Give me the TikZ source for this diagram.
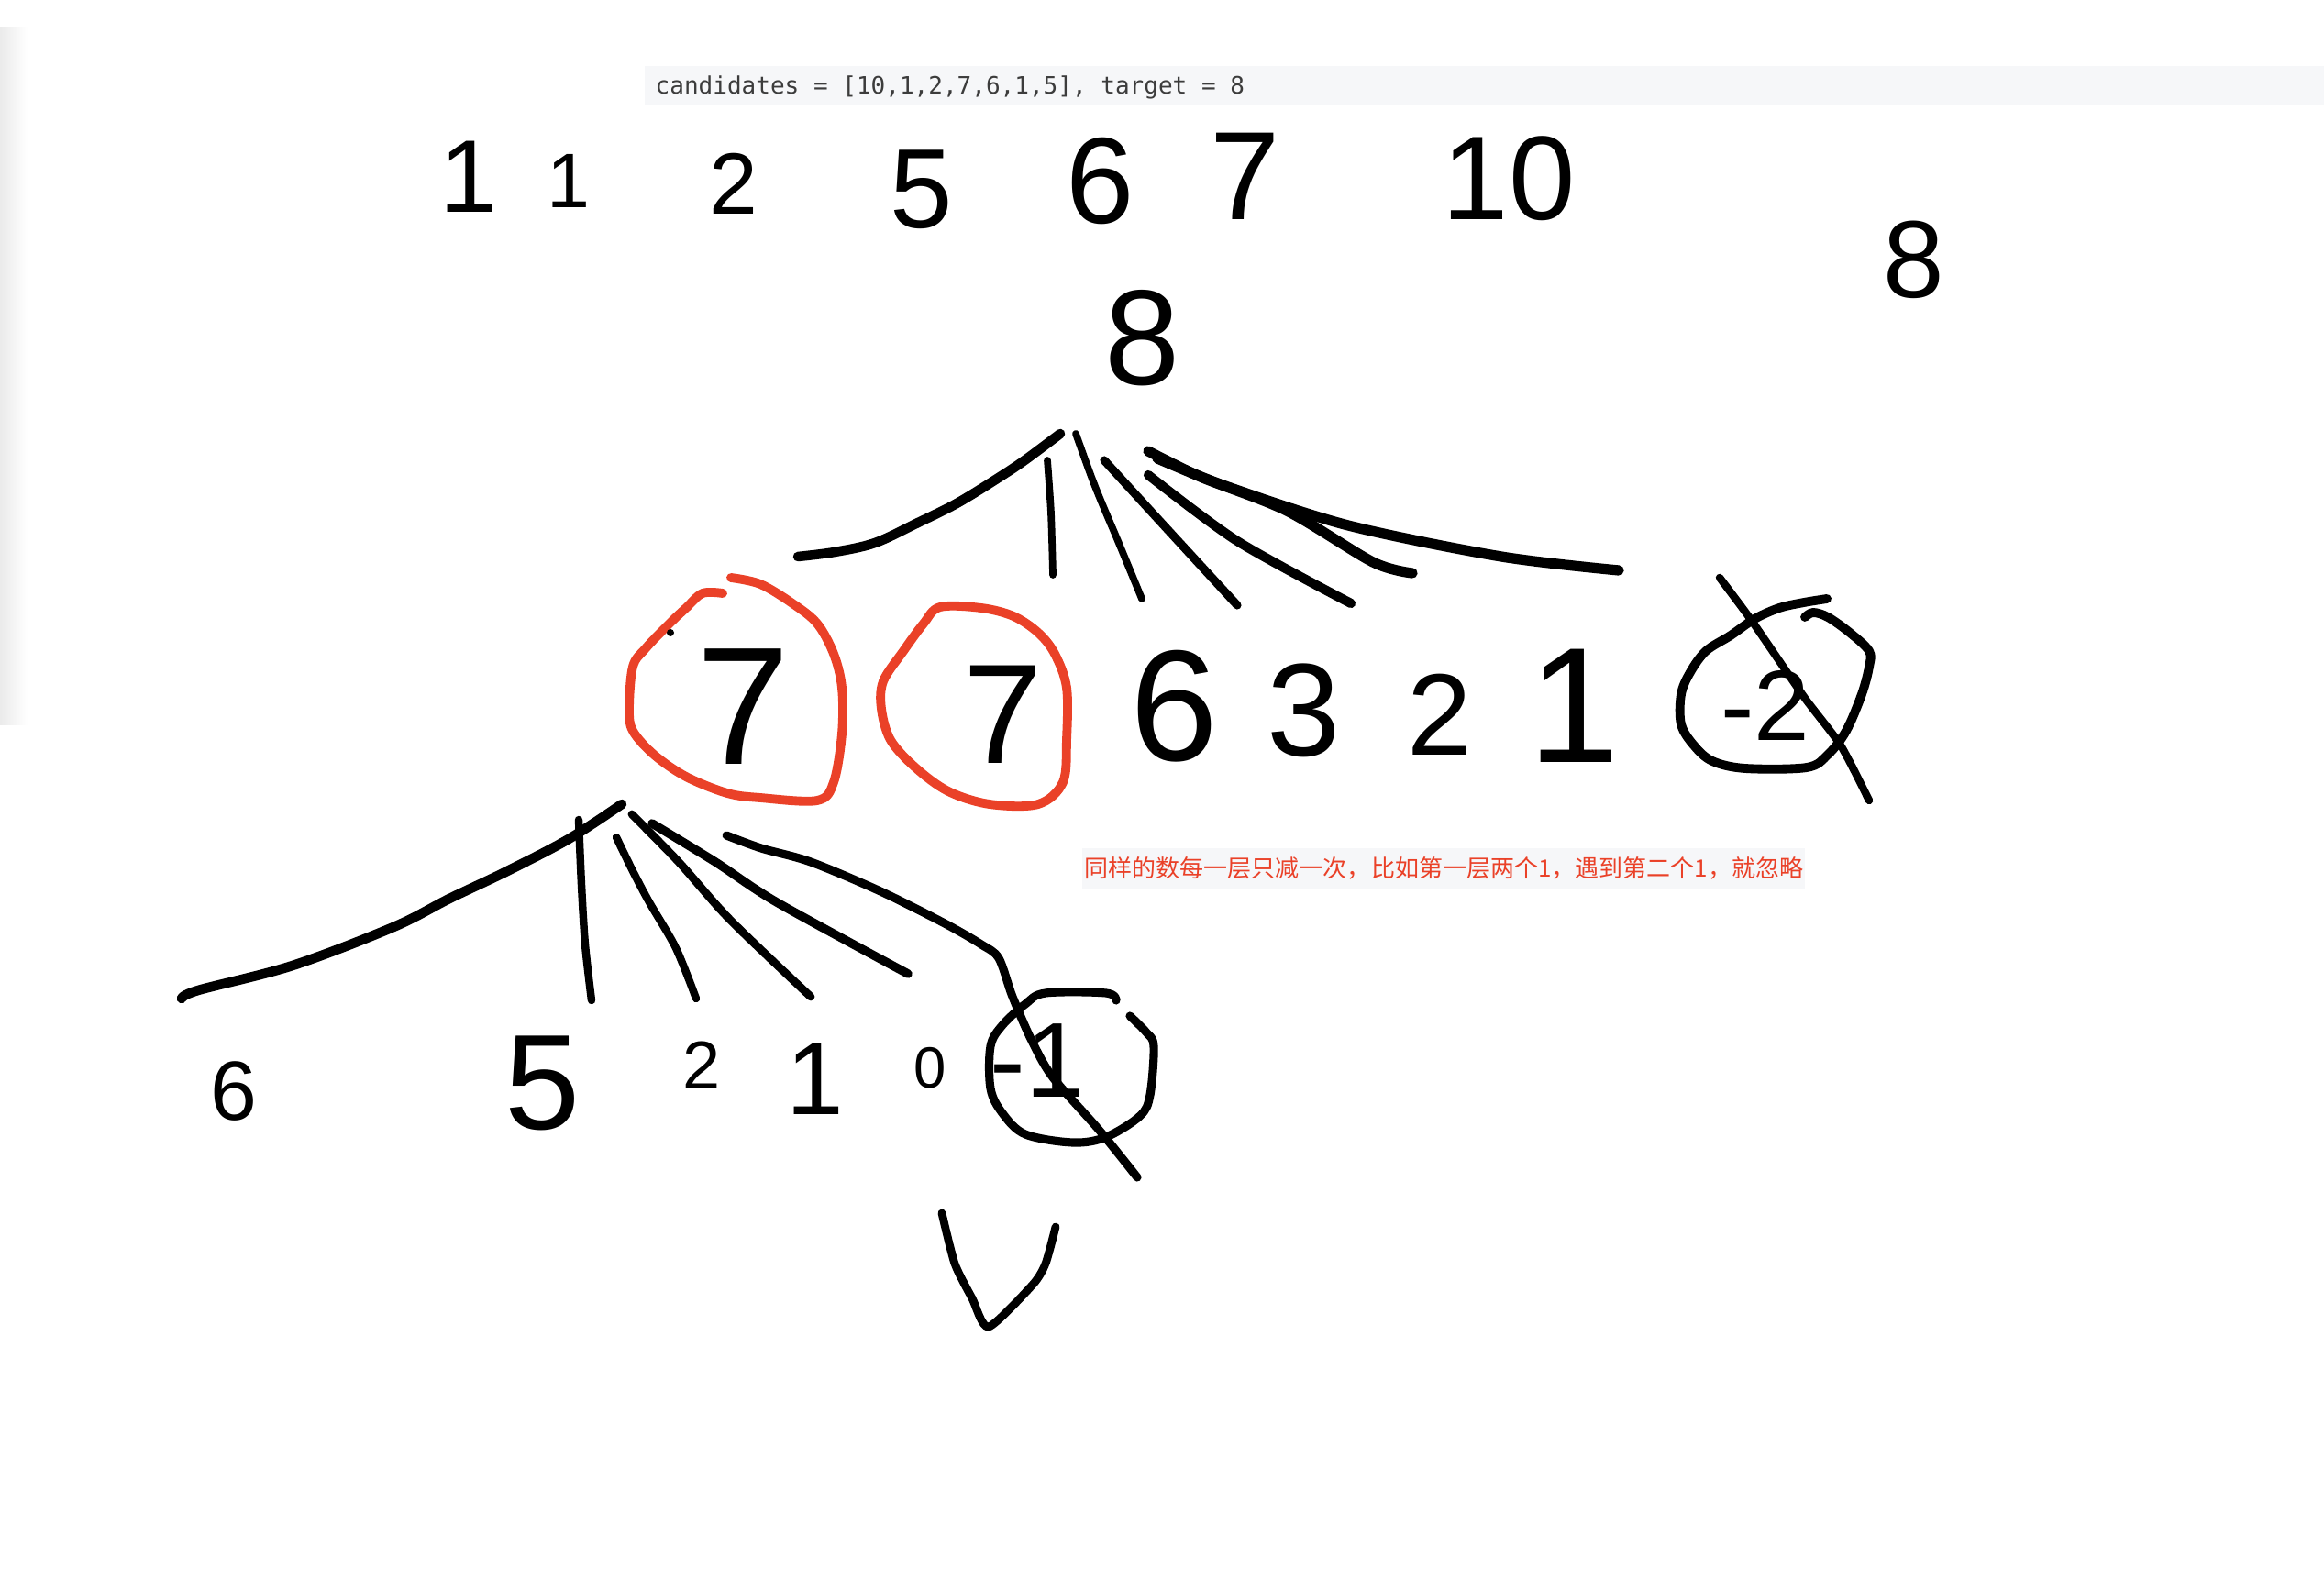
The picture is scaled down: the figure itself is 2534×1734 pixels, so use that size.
\documentclass[tikz,border=0pt]{standalone}
\usepackage{fontspec}
\setmainfont{Liberation Sans}
\newfontfamily\codefont{DejaVu Sans Mono}
\newfontfamily\cjkfont{Noto Sans CJK SC}
\definecolor{sketchred}{RGB}{234,65,40}
\definecolor{bandgray}{RGB}{246,247,249}
\definecolor{codegray}{RGB}{60,60,60}
\tikzset{
  hw/.style={inner sep=0pt, outer sep=0pt, font=\fontsize{#1pt}{#1pt}\selectfont},
  ink/.style={draw=black, line width=#1, line cap=round, line join=round},
  redink/.style={draw=sketchred, line width=#1, line cap=round, line join=round},
}
\begin{document}
\begin{tikzpicture}[x=0.01cm, y=-0.01cm]
\useasboundingbox (0,0) rectangle (2534,1734);
\fill[white] (0,0) rectangle (2534,1734);
% left window shadow
\shade[left color=black!8, right color=white] (0,30) rectangle (30,790);

% code line
\fill[bandgray] (703,72) rectangle (2534,114);
\node[anchor=west, inner sep=0pt, text=codegray, font=\codefont\fontsize{7.4pt}{9pt}\selectfont] (code) at (714,95) {candidates = [10,1,2,7,6,1,5], target = 8};

% sorted candidates row
\node[hw=32] (c1) at (511,193) {1};
\node[hw=24] (c2) at (620,197) {1};
\node[hw=27] (c3) at (800,200) {2};
\node[hw=35] (c4) at (1005,207) {5};
\node[hw=38] (c5) at (1200,198) {6};
\node[hw=39] (c6) at (1358,192) {7};
\node[hw=37] (c7) at (1645,195) {10};
\node[hw=34] (tgt) at (2087,283) {8};

% root
\node[hw=42] (root) at (1246,369) {8};

% first level branches
\draw[ink=3pt] plot[smooth, tension=0.55] coordinates {(1156,473) (1120,500) (1095,517) (1045,548) (1001,570) (954,592) (910,602) (870,607)};
\draw[ink=2.2pt] plot[smooth, tension=0.5] coordinates {(1142,502) (1146,560) (1148,627)};
\draw[ink=2.2pt] plot[smooth, tension=0.5] coordinates {(1173,473) (1190,520) (1202,550) (1219,590) (1245,653)};
\draw[ink=2.6pt] plot[smooth, tension=0.5] coordinates {(1204,502) (1269,573) (1349,660)};
\draw[ink=2.9pt] plot[smooth, tension=0.5] coordinates {(1252,518) (1349,590) (1473,658)};
\draw[ink=3.2pt] plot[smooth, tension=0.5] coordinates {(1252,492) (1309,520) (1403,557) (1497,613) (1540,625)};
\draw[ink=3.2pt] plot[smooth, tension=0.5] coordinates {(1262,500) (1336,530) (1470,573) (1637,607) (1765,622)};

% second row
\draw[redink=2.8pt] plot[smooth, tension=0.55] coordinates {(797,630) (829,637) (864,658) (891,680) (909,713) (918,750) (918,800) (909,853) (891,873) (829,870) (793,865) (748,847) (713,823) (690,797) (686,773) (690,727) (704,707) (730,680) (748,663) (766,647) (788,647)};
\fill (731,690) circle (4);
\node[hw=52] (n7a) at (810,771) {7};

\draw[redink=2.8pt] plot[smooth cycle, tension=0.55] coordinates {(1025,662) (1070,663) (1105,672) (1132,690) (1150,713) (1163,750) (1163,807) (1159,853) (1132,877) (1079,877) (1034,863) (998,837) (971,807) (961,773) (963,743) (985,710) (1007,680)};
\node[hw=44] (n7b) at (1094,779) {7};

\node[hw=49] (n6) at (1280,770) {6};
\node[hw=41] (n3) at (1422,775) {3};
\node[hw=36] (n2) at (1570,779) {2};
\node[hw=51] (n1) at (1716,770) {1};

\draw[ink=2.8pt] plot[smooth, tension=0.55] coordinates {(1992,653) (1967,657) (1940,663) (1913,675) (1887,693) (1860,710) (1843,733) (1833,757) (1833,790) (1847,813) (1867,830) (1903,838) (1970,837) (1993,823) (2013,797) (2030,757) (2038,727) (2038,710) (2017,690) (1993,673) (1977,668) (1968,673)};
\node[hw=31] (nm2) at (1925,769) {-2};
\draw[ink=2.4pt] plot[smooth, tension=0.4] coordinates {(1875,630) (1910,677) (1967,760) (2007,813) (2038,873)};

% second level branches (under first 7)
\draw[ink=3pt] plot[smooth, tension=0.55] coordinates {(678,877) (620,915) (553,950) (490,980) (429,1011) (319,1053) (216,1080) (198,1089)};
\draw[ink=2.4pt] plot[smooth, tension=0.5] coordinates {(631,894) (634,965) (638,1030) (645,1091)};
\draw[ink=2.4pt] plot[smooth, tension=0.5] coordinates {(672,913) (690,950) (708,984) (737,1034) (759,1089)};
\draw[ink=2.5pt] plot[smooth, tension=0.5] coordinates {(689,888) (740,940) (796,1003) (884,1087)};
\draw[ink=2.7pt] plot[smooth, tension=0.5] coordinates {(711,898) (780,940) (847,984) (990,1062)};
\draw[ink=2.6pt] plot[smooth, tension=0.5] coordinates {(792,911) (830,925) (884,940) (960,972) (1030,1007) (1070,1030) (1089,1045) (1104,1087) (1125,1135) (1148,1175) (1199,1233) (1240,1284)};

% third row
\node[hw=26] (m6) at (255,1190) {6};
\node[hw=42] (m5) at (592,1181) {5};
\node[hw=21] (m2) at (765,1162) {2};
\node[hw=32] (m1) at (889,1177) {1};
\node[hw=18] (m0) at (1014,1165) {0};
\draw[ink=2.6pt] plot[smooth, tension=0.55] coordinates {(1217,1091) (1206,1083) (1140,1083) (1118,1095) (1093,1118) (1080,1141) (1080,1187) (1093,1214) (1118,1237) (1170,1246) (1206,1240) (1243,1217) (1254,1194) (1258,1141) (1250,1126) (1232,1108)};
\node[hw=33] (mm1) at (1131,1157) {-1};

% check mark
\draw[ink=2.5pt] plot[smooth, tension=0.4] coordinates {(1027,1323) (1041,1378) (1060,1416) (1078,1447) (1126,1401) (1140,1378) (1151,1338)};

% note
\fill[bandgray] (1180,925) rectangle (1968,970);
\node[anchor=west, inner sep=0pt, text=sketchred, font=\cjkfont\fontsize{7.4pt}{9pt}\selectfont] (note) at (1182,947) {同样的数每一层只减一次，比如第一层两个1，遇到第二个1，就忽略};
\end{tikzpicture}
\end{document}
